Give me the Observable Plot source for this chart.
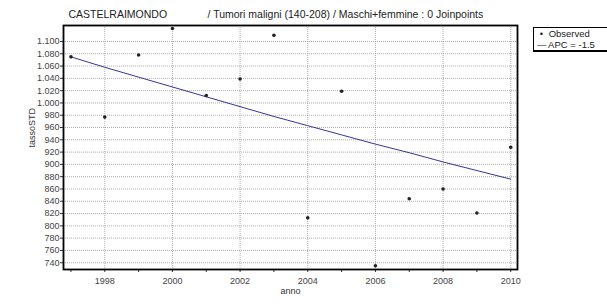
<!DOCTYPE html>
<html>
<head>
<meta charset="utf-8">
<script src="https://cdn.jsdelivr.net/npm/d3@7"></script>
<script src="https://cdn.jsdelivr.net/npm/@observablehq/plot@0.6"></script>
<style>
  html, body { margin: 0; padding: 0; background: #fff; }
  #wrap { position: relative; width: 607px; height: 307px; overflow: hidden; font-family: "Liberation Sans", Arial, sans-serif; }
  #legend { position: absolute; left: 533px; top: 27px; width: 90px; height: 21px; border: 1px solid #000; border-bottom-width: 2px; border-right-width: 2px; background: #fff; font-size: 9.5px; line-height: 10.5px; padding: 1px 0 0 3px; color: #222; }
  #legend .dot { display: inline-block; width: 9px; text-align: center; }
</style>
</head>
<body>
<div id="wrap"></div>
<script>
const years = [1997,1998,1999,2000,2001,2002,2003,2004,2005,2006,2007,2008,2009,2010];
const observed = [1075,977,1078,1121,1012,1039,1110,813,1019,735,844,860,821,928];
const fitted = [1075,1058,1042,1026,1010,994,978,963,948,933,919,904,890,876];
const yTicks = [740,760,780,800,820,840,860,880,900,920,940,960,980,1000,1020,1040,1060,1080,1100];
const xLabelYears = [1998,2000,2002,2004,2006,2008,2010];
const titleMain = "CASTELRAIMONDO";
const titleSub = "/ Tumori maligni (140-208) / Maschi+femmine : 0 Joinpoints";

const data = years.map((y, i) => ({anno: y, obs: observed[i], fit: fitted[i]}));
const itFmt = d3.formatLocale({decimal: ",", thousands: ".", grouping: [3], currency: ["", ""]}).format(",d");

const chart = Plot.plot({
  width: 607,
  height: 307,
  marginLeft: 63,
  marginRight: 90,
  marginTop: 25,
  marginBottom: 38,
  style: {fontFamily: "'Liberation Sans', Arial, sans-serif", fontSize: "9px", color: "#333", background: "#fff"},
  x: {domain: [1996.78, 2010.2]},
  y: {domain: [729, 1126]},
  marks: [
    Plot.gridY(yTicks, {stroke: "#999", strokeOpacity: 0.8, strokeDasharray: "1,1"}),
    Plot.gridX(xLabelYears, {stroke: "#999", strokeOpacity: 0.8, strokeDasharray: "1,1"}),
    Plot.axisY(yTicks, {tickSize: 3, tickPadding: 1, tickFormat: itFmt, label: null, fill: "#444", fontSize: 9}),
    Plot.axisX(years, {tickSize: 3, tickPadding: 5, tickFormat: d => d % 2 === 0 ? String(d) : "", label: null, fill: "#444", fontSize: 9}),
    Plot.frame({stroke: "#000", strokeWidth: 1.8}),
    Plot.line(data, {x: "anno", y: "fit", stroke: "#35359a", strokeWidth: 1}),
    Plot.dot(data, {x: "anno", y: "obs", r: 1.8, fill: "#222", stroke: "none"}),
    Plot.text([titleMain], {frameAnchor: "top-left", dx: 5, dy: -15, text: d => d, fontSize: 10.5, fill: "#222", textAnchor: "start"}),
    Plot.text([titleSub], {frameAnchor: "top-left", dx: 144, dy: -15, text: d => d, fontSize: 10.5, fill: "#222", textAnchor: "start"}),
    Plot.text(["tassoSTD"], {frameAnchor: "left", dx: -31, rotate: -90, text: d => d, fontSize: 9, fill: "#333"}),
    Plot.text(["anno"], {frameAnchor: "bottom", dy: 24, text: d => d, fontSize: 9, fill: "#333"})
  ]
});

const wrap = document.getElementById("wrap");
wrap.appendChild(chart);
const legend = document.createElement("div");
legend.id = "legend";
legend.innerHTML = '<div><span class="dot">&#8226;</span> Observed</div><div><span class="dot">&#8212;</span> APC = -1.5</div>';
wrap.appendChild(legend);
</script>
</body>
</html>
